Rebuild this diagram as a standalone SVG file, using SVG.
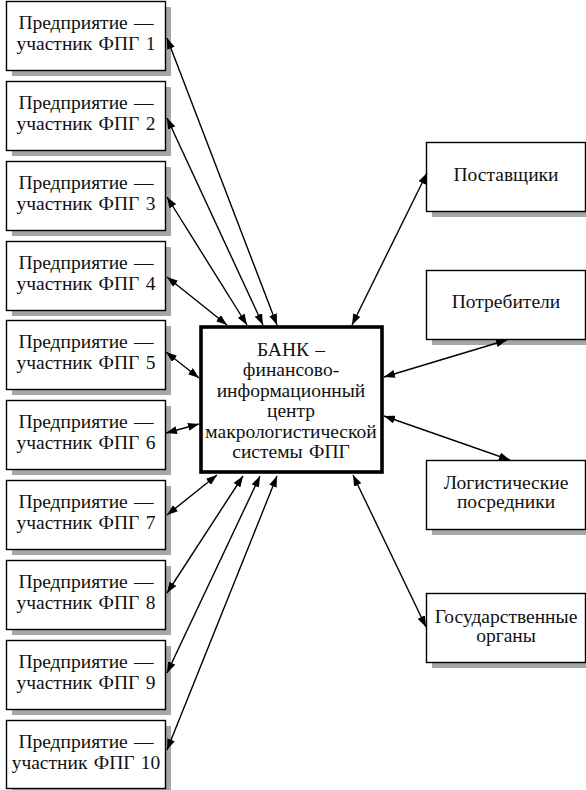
<svg xmlns="http://www.w3.org/2000/svg" width="586" height="790" viewBox="0 0 586 790">
<style>
.bg{fill:#ffffff}
.box{fill:#ffffff;stroke:#000;stroke-width:1.4}
.shadow{fill:#a6a6a6}
.bank{fill:#ffffff;stroke:#000;stroke-width:3.6}
text{font-family:"Liberation Serif","Times New Roman",serif;font-size:19.5px;word-spacing:1.5px;fill:#111;text-anchor:middle}
.conn line{stroke:#000;stroke-width:1.4;marker-start:url(#ah);marker-end:url(#ah)}
</style>
<defs>
<marker id="ah" viewBox="0 0 11 8" refX="11" refY="4" markerWidth="11" markerHeight="8" markerUnits="userSpaceOnUse" orient="auto-start-reverse">
<path d="M0,0 L11,4 L0,8 z" fill="#000"/>
</marker>
</defs>
<rect class="bg" x="0" y="0" width="586" height="790"/>

<g id="e1"><rect class="shadow" x="12" y="7" width="159" height="69"/><rect class="box" x="6.5" y="1.5" width="159" height="69"/><text x="86" y="29">Предприятие —</text><text x="86" y="50">участник ФПГ 1</text></g>
<g id="e2"><rect class="shadow" x="12" y="87" width="159" height="69"/><rect class="box" x="6.5" y="81.5" width="159" height="69"/><text x="86" y="109">Предприятие —</text><text x="86" y="130">участник ФПГ 2</text></g>
<g id="e3"><rect class="shadow" x="12" y="167" width="159" height="69"/><rect class="box" x="6.5" y="161.5" width="159" height="69"/><text x="86" y="189">Предприятие —</text><text x="86" y="210">участник ФПГ 3</text></g>
<g id="e4"><rect class="shadow" x="12" y="247" width="159" height="69"/><rect class="box" x="6.5" y="241.5" width="159" height="69"/><text x="86" y="269">Предприятие —</text><text x="86" y="290">участник ФПГ 4</text></g>
<g id="e5"><rect class="shadow" x="12" y="326" width="159" height="69"/><rect class="box" x="6.5" y="320.5" width="159" height="69"/><text x="86" y="348">Предприятие —</text><text x="86" y="369">участник ФПГ 5</text></g>
<g id="e6"><rect class="shadow" x="12" y="406" width="159" height="69"/><rect class="box" x="6.5" y="400.5" width="159" height="69"/><text x="86" y="428">Предприятие —</text><text x="86" y="449">участник ФПГ 6</text></g>
<g id="e7"><rect class="shadow" x="12" y="486" width="159" height="69"/><rect class="box" x="6.5" y="480.5" width="159" height="69"/><text x="86" y="508">Предприятие —</text><text x="86" y="529">участник ФПГ 7</text></g>
<g id="e8"><rect class="shadow" x="12" y="566" width="159" height="69"/><rect class="box" x="6.5" y="560.5" width="159" height="69"/><text x="86" y="588">Предприятие —</text><text x="86" y="609">участник ФПГ 8</text></g>
<g id="e9"><rect class="shadow" x="12" y="646" width="159" height="69"/><rect class="box" x="6.5" y="640.5" width="159" height="69"/><text x="86" y="668">Предприятие —</text><text x="86" y="689">участник ФПГ 9</text></g>
<g id="e10"><rect class="shadow" x="12" y="726" width="159" height="69"/><rect class="box" x="6.5" y="720.5" width="159" height="68"/><text x="86" y="748">Предприятие —</text><text x="86" y="769">участник ФПГ 10</text></g>

<g id="bank"><rect class="bank" x="201" y="327" width="181" height="145"/>
<text x="291" y="356">БАНК –</text>
<text x="291" y="376">финансово-</text>
<text x="291" y="397">информационный</text>
<text x="291" y="417">центр</text>
<text x="291" y="438">макрологистической</text>
<text x="291" y="458">системы ФПГ</text></g>

<g id="suppliers"><rect class="shadow" x="432" y="148" width="159" height="69"/><rect class="box" x="426.5" y="142.5" width="159" height="69"/><text x="506" y="181">Поставщики</text></g>
<g id="consumers"><rect class="shadow" x="432" y="276" width="159" height="69"/><rect class="box" x="426.5" y="270.5" width="159" height="69"/><text x="506" y="308">Потребители</text></g>
<g id="logistics"><rect class="shadow" x="432" y="466" width="159" height="69"/><rect class="box" x="426.5" y="460.5" width="159" height="69"/><text x="506" y="489">Логистические</text><text x="506" y="508">посредники</text></g>
<g id="state"><rect class="shadow" x="432" y="599" width="159" height="69"/><rect class="box" x="426.5" y="593.5" width="159" height="69"/><text x="506" y="623">Государственные</text><text x="506" y="642">органы</text></g>

<g id="connectors" class="conn">
<line x1="167" y1="38" x2="277" y2="325"/>
<line x1="167" y1="118" x2="263" y2="325"/>
<line x1="167" y1="197" x2="247" y2="325"/>
<line x1="167" y1="277" x2="227" y2="325"/>
<line x1="166" y1="352" x2="199" y2="378"/>
<line x1="166" y1="433" x2="199" y2="424"/>
<line x1="167" y1="515" x2="217" y2="475"/>
<line x1="167" y1="593" x2="243" y2="476"/>
<line x1="167" y1="673" x2="260" y2="476"/>
<line x1="167" y1="750" x2="277" y2="476"/>
<line x1="352" y1="325" x2="427" y2="173"/>
<line x1="384" y1="377" x2="507" y2="340"/>
<line x1="384" y1="416" x2="510" y2="460"/>
<line x1="353" y1="475" x2="426" y2="627"/>
</g>
</svg>
